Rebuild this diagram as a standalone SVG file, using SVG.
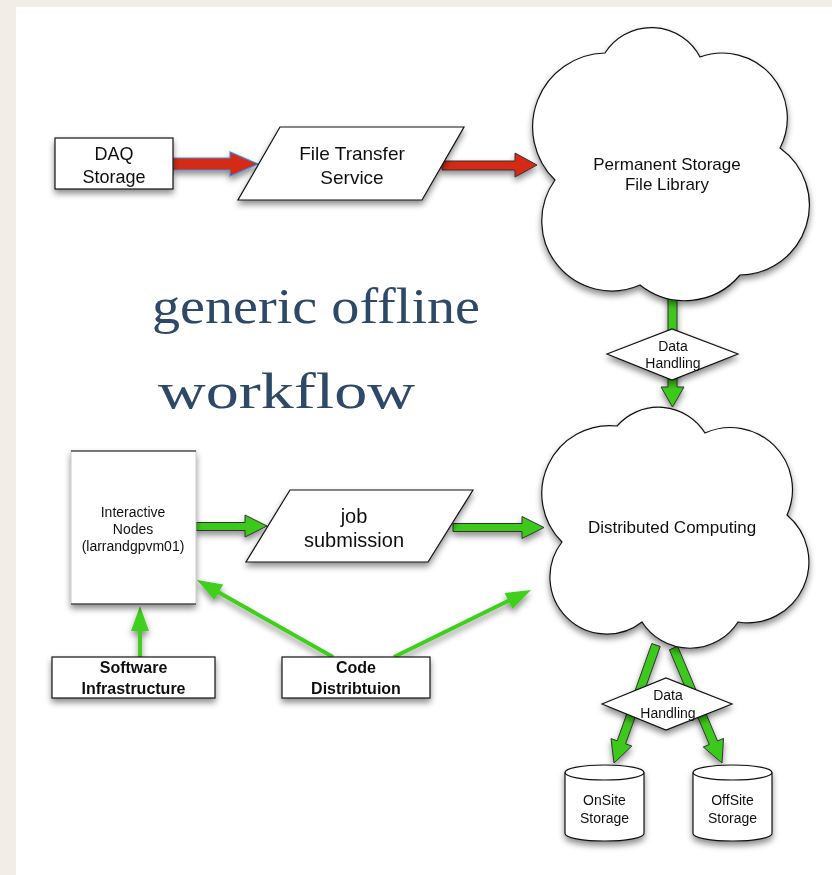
<svg xmlns="http://www.w3.org/2000/svg" width="832" height="875" viewBox="0 0 832 875">
<defs>
<filter id="sh" x="-20%" y="-20%" width="140%" height="160%"><feDropShadow dx="0" dy="4" stdDeviation="3" flood-color="#000" flood-opacity="0.45"/></filter>
<style>
.t{font-family:"Liberation Sans",Arial,sans-serif;fill:#111;text-anchor:middle}
.b{font-weight:bold}
.node{fill:#fff;stroke:#111;stroke-width:1.2}
.ga{fill:#3cc91c;stroke:#333;stroke-width:1}
.gl{stroke:#3fcf1f;stroke-width:4;fill:none}
.gh{fill:#3fcf1f}
.title{font-family:"Liberation Serif","Times New Roman",serif;font-size:50px;fill:#2e4868}
</style>
</defs>
<rect x="0" y="0" width="832" height="875" fill="#f2eee7"/>
<rect x="16" y="7" width="816" height="868" fill="#fff"/>

<g id="title">
<text class="title" x="152" y="323" textLength="328" lengthAdjust="spacingAndGlyphs">generic offline</text>
<text class="title" x="158" y="408" textLength="257" lengthAdjust="spacingAndGlyphs">workflow</text>
</g>

<g id="connectors" filter="url(#sh)">
<polygon points="173,158 230,158 230,152 258,164 230,176 230,170 173,170" fill="#d42a12" stroke="#3d8ee0" stroke-width="1.2"/>
<polygon points="442,161 515,161 515,153 537,165 515,177 515,170 442,170" fill="#d42a12" stroke="#333" stroke-width="1"/>
<polygon class="ga" points="668,290 677,290 677,387 684,387 672.5,407 661,387 668,387"/>
<polygon class="ga" points="196,522.5 245,522.5 245,515 267,526 245,537 245,530.5 196,530.5"/>
<polygon class="ga" points="453,523.5 522,523.5 522,516.5 544,527.5 522,538.5 522,531.5 453,531.5"/>
<polygon class="ga" points="651.8,643.5 660.2,646.5 625.6,743.8 631.8,746 614,763 611,738.6 617.2,740.8"/>
<polygon class="ga" points="669.4,649.8 677.6,646.2 717.5,741 723.5,738.4 722,763 703.3,747 709.3,744.5"/>
<line class="gl" x1="140" y1="657" x2="140" y2="628"/>
<polygon class="gh" points="131,631 149,631 140,606"/>
<line class="gl" x1="333" y1="657" x2="218" y2="592"/>
<polygon class="gh" points="223.2,584.5 214.4,600.1 197,580"/>
<line class="gl" x1="394" y1="657" x2="510" y2="600"/>
<polygon class="gh" points="512.5,609.1 504.6,592.9 531,590"/>
</g>

<g id="daq" filter="url(#sh)">
<rect class="node" x="55" y="138" width="118" height="51" stroke-width="1"/>
<text class="t" x="114" y="160" font-size="18">DAQ</text>
<text class="t" x="114" y="183" font-size="18">Storage</text>
</g>

<g id="fts" filter="url(#sh)">
<polygon class="node" points="280,127 464,127 422,200 238,200"/>
<text class="t" x="352" y="160" font-size="19">File Transfer</text>
<text class="t" x="352" y="184" font-size="19">Service</text>
</g>

<g id="permstore" filter="url(#sh)">
<path class="node" d="M605,53 A55,55 0 0 1 700,57 A65,65 0 0 1 780,148 A70,70 0 0 1 740,275 A72,72 0 0 1 640,285 A70,70 0 0 1 555,180 A74,74 0 0 1 605,53 Z"/>
<text class="t" x="667" y="170" font-size="17">Permanent Storage</text>
<text class="t" x="667" y="190" font-size="17">File Library</text>
</g>

<g id="dh1" filter="url(#sh)">
<polygon class="node" points="607,354 672,329 738,354 672,380" stroke-width="1"/>
<text class="t" x="673" y="351" font-size="14">Data</text>
<text class="t" x="673" y="368" font-size="14">Handling</text>
</g>

<g id="distcomp" filter="url(#sh)">
<path class="node" d="M617,426 A55,55 0 0 1 705,433 A62,62 0 0 1 787,515 A61,61 0 0 1 738,622 A57,57 0 0 1 642,622 A57,57 0 0 1 562,542 A68,68 0 0 1 617,426 Z"/>
<text class="t" x="672" y="533" font-size="17">Distributed Computing</text>
</g>

<g id="interactive" filter="url(#sh)">
<rect x="71" y="451" width="125" height="153" fill="#fff" stroke="#bbb" stroke-width="0.8"/>
<line x1="71" y1="451" x2="196" y2="451" stroke="#111" stroke-width="1.2"/>
<line x1="71" y1="604" x2="196" y2="604" stroke="#111" stroke-width="1.2"/>
<text class="t" x="133" y="517" font-size="14">Interactive</text>
<text class="t" x="133" y="534" font-size="14">Nodes</text>
<text class="t" x="133" y="551" font-size="14">(larrandgpvm01)</text>
</g>

<g id="jobsub" filter="url(#sh)">
<polygon class="node" points="290,490 473,490 428,562 246,562"/>
<text class="t" x="354" y="523" font-size="20">job</text>
<text class="t" x="354" y="547" font-size="20">submission</text>
</g>

<g id="software" filter="url(#sh)">
<rect class="node" x="52" y="657" width="163" height="41" stroke-width="1.6"/>
<text class="t b" x="133.5" y="673" font-size="16">Software</text>
<text class="t b" x="133.5" y="694" font-size="16">Infrastructure</text>
</g>

<g id="codedist" filter="url(#sh)">
<rect class="node" x="282" y="657" width="148" height="41" stroke-width="1.6"/>
<text class="t b" x="356" y="673" font-size="16">Code</text>
<text class="t b" x="356" y="694" font-size="16">Distribtuion</text>
</g>

<g id="dh2" filter="url(#sh)">
<polygon class="node" points="602,704 666,678 732,704 666,730" stroke-width="1"/>
<text class="t" x="668" y="700" font-size="14">Data</text>
<text class="t" x="668" y="718" font-size="14">Handling</text>
</g>

<g id="onsite" filter="url(#sh)">
<path class="node" d="M565,772.5 A39.5,7.5 0 0 1 644,772.5 V833.5 A39.5,7.5 0 0 1 565,833.5 Z"/>
<path d="M565,772.5 A39.5,7.5 0 0 0 644,772.5" fill="none" stroke="#111" stroke-width="1.2"/>
<text class="t" x="604.5" y="805" font-size="14">OnSite</text>
<text class="t" x="604.5" y="823" font-size="14">Storage</text>
</g>

<g id="offsite" filter="url(#sh)">
<path class="node" d="M693,772.5 A39.5,7.5 0 0 1 772,772.5 V833.5 A39.5,7.5 0 0 1 693,833.5 Z"/>
<path d="M693,772.5 A39.5,7.5 0 0 0 772,772.5" fill="none" stroke="#111" stroke-width="1.2"/>
<text class="t" x="732.5" y="805" font-size="14">OffSite</text>
<text class="t" x="732.5" y="823" font-size="14">Storage</text>
</g>
</svg>
